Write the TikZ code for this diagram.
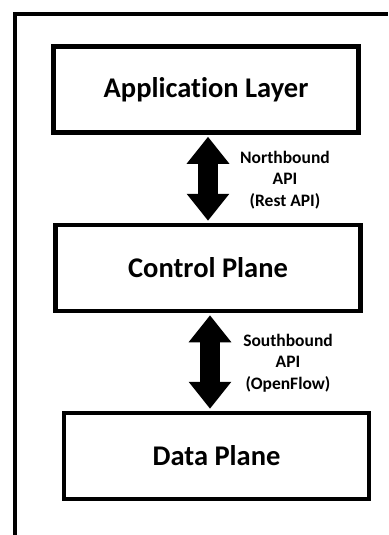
\documentclass[tikz,border=0pt]{standalone}
\usepackage{fontspec}
\setmainfont[Ligatures={NoCommon}]{Carlito}
\usetikzlibrary{arrows.meta}

\begin{document}
\begin{tikzpicture}[
  layerbox/.style = {draw, line width=4.5pt, minimum width=305pt, minimum height=86pt, inner sep=0pt, font=\bfseries\fontsize{28.5}{31}\selectfont},
  apilabel/.style = {align=center, inner sep=0pt, font=\bfseries\fontsize{17.5}{21.5}\selectfont},
  apiarrow/.style = {{Triangle[width=41pt,length=27pt]}-{Triangle[width=41pt,length=27pt]}, line width=20pt, shorten <=2pt, shorten >=2pt},
  x=1pt, y=-1pt,
]
  \useasboundingbox (0,0) rectangle (388,535);

  % outer frame, cut by the page on the right and at the bottom
  \draw[line width=4pt] (15,535) -- (15,14) -- (388,14);

  \node[layerbox] (app)  at (206,89.5) {Application Layer};
  \node[layerbox] (ctrl) at (208,268)  {Control Plane};
  \node[layerbox] (data) at (216.5,456) {Data Plane};

  \draw[apiarrow] (app.south -| 208,0) -- (ctrl.north -| 208,0);
  \draw[apiarrow] (ctrl.south -| 210,0) -- (data.north -| 210,0);

  \node[apilabel] (nblabel) at (285,180) {Northbound\\API\\(Rest API)};
  \node[apilabel] (sblabel) at (288,363) {Southbound\\API\\(OpenFlow)};
\end{tikzpicture}
\end{document}
